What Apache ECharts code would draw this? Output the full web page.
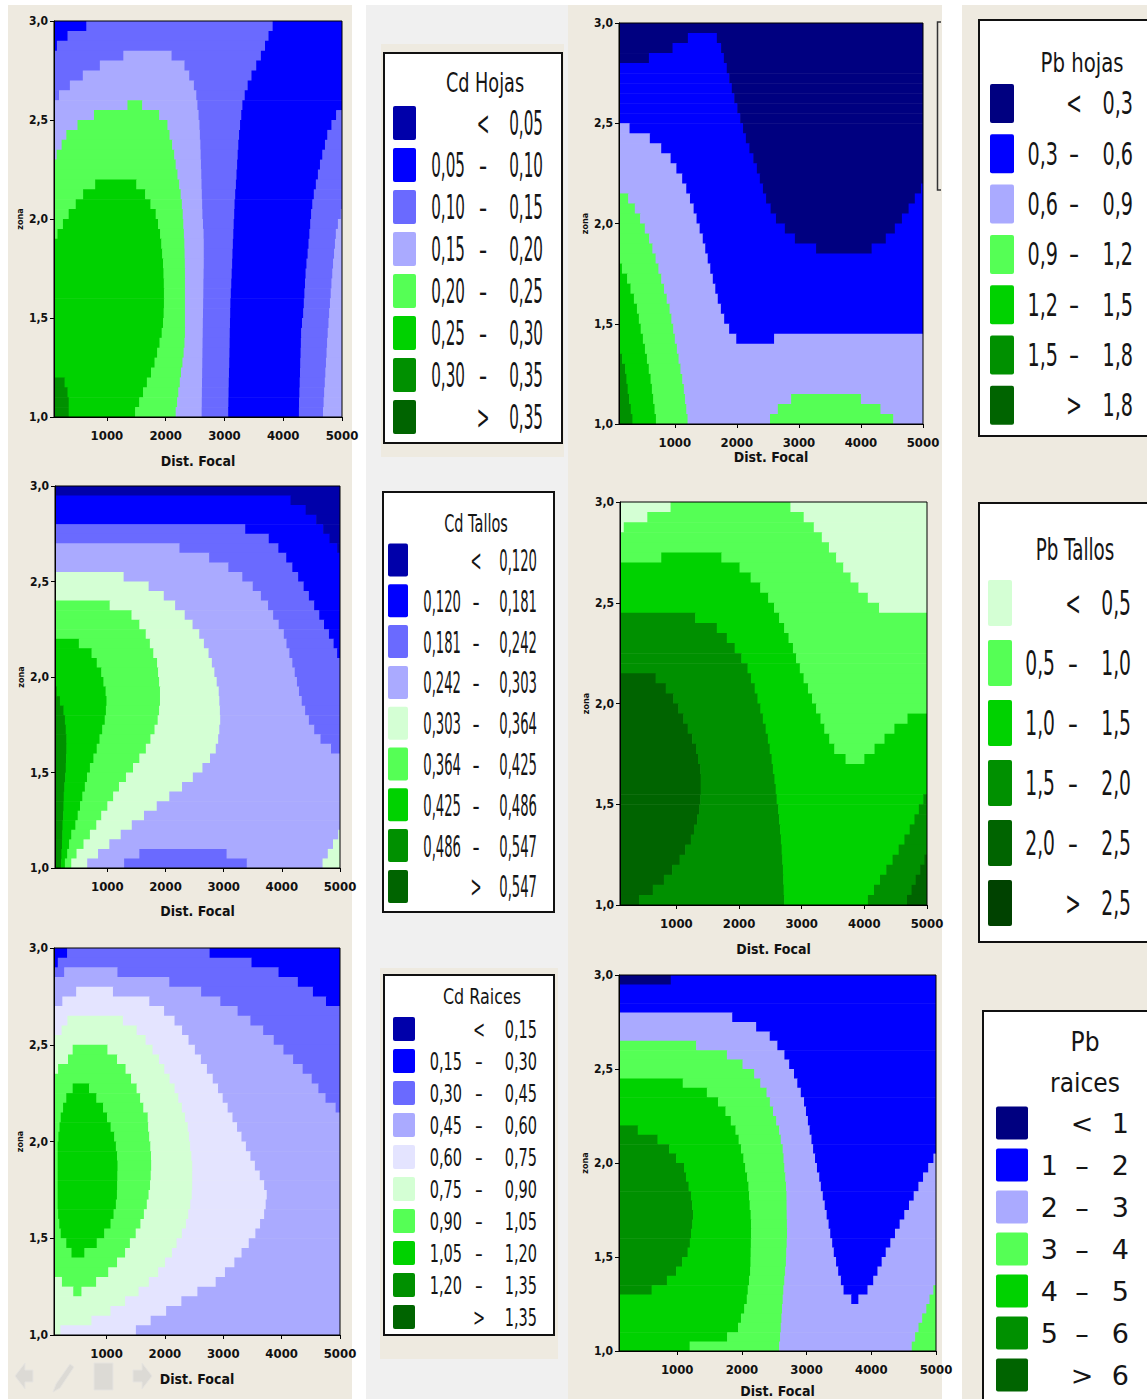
<!DOCTYPE html>
<html>
<head>
<meta charset="utf-8">
<title>Cd y Pb - contornos</title>
<script src="https://cdn.jsdelivr.net/npm/echarts@6/dist/echarts.min.js"></script>
<style>
  html, body { margin: 0; padding: 0; background: #fff; }
  #chart { width: 1147px; height: 1399px; }
</style>
</head>
<body>
<div id="chart"></div>
<script>
// ticks shared by the six contour plots
const xTicks = [1000, 2000, 3000, 4000, 5000];
const yTicks = [1.0, 1.5, 2.0, 2.5, 3.0];
const xMin = 100, xMax = 5000, yTop = 3.0, rowStep = 0.05;

// contour bands: one string per 0.05 strip of zona, 3,0 at the top.
// "level:xEnd" runs left to right, the last run goes to 5000
const cdHojasRows = [
  "1:650 2:3820 1",
  "1:330 2:3750 1",
  "1:150 2:3690 1",
  "2:1280 3:2100 2:3620 1",
  "2:880 3:2320 2:3540 1",
  "2:590 3:2400 2:3460 1",
  "2:370 3:2480 2:3395 1",
  "2:185 3:2520 2:3345 1",
  "3:1350 4:1600 3:2540 2:3305 1",
  "3:780 4:1890 3:2560 2:3285 1:4900 2",
  "3:500 4:2030 3:2575 2:3265 1:4820 2",
  "3:310 4:2065 3:2582 2:3248 1:4750 2",
  "3:230 4:2110 3:2590 2:3235 1:4710 2",
  "3:145 4:2145 3:2595 2:3225 1:4665 2",
  "4:2170 3:2600 2:3215 1:4625 2",
  "4:2200 3:2605 2:3205 1:4590 2",
  "4:800 5:1500 4:2230 3:2610 2:3195 1:4555 2",
  "4:595 5:1650 4:2255 3:2615 2:3182 1:4520 2",
  "4:470 5:1740 4:2275 3:2620 2:3172 1:4495 2",
  "4:350 5:1830 4:2290 3:2625 2:3165 1:4475 2:4980 3",
  "4:252 5:1870 4:2300 3:2635 2:3157 1:4460 2:4930 3",
  "4:160 5:1905 4:2310 3:2645 2:3150 1:4445 2:4895 3",
  "5:1925 4:2318 3:2648 2:3143 1:4430 2:4880 3",
  "5:1940 4:2322 3:2648 2:3136 1:4415 2:4865 3",
  "5:1955 4:2326 3:2648 2:3130 1:4395 2:4848 3",
  "5:1962 4:2328 3:2645 2:3123 1:4380 2:4835 3",
  "5:1968 4:2328 3:2642 2:3115 1:4370 2:4820 3",
  "5:1970 4:2328 3:2640 2:3108 1:4360 2:4808 3",
  "5:1970 4:2328 3:2637 2:3100 1:4350 2:4795 3",
  "5:1965 4:2328 3:2635 2:3097 1:4340 2:4782 3",
  "5:1955 4:2328 3:2632 2:3094 1:4320 2:4770 3",
  "5:1932 4:2328 3:2630 2:3090 1:4305 2:4757 3",
  "5:1895 4:2320 3:2627 2:3088 1:4300 2:4747 3",
  "5:1855 4:2305 3:2625 2:3085 1:4295 2:4737 3",
  "5:1810 4:2285 3:2622 2:3081 1:4290 2:4727 3",
  "5:1750 4:2260 3:2620 2:3077 1:4285 2:4717 3",
  "6:280 5:1680 4:2240 3:2618 2:3073 1:4280 2:4707 3",
  "6:330 5:1615 4:2215 3:2616 2:3070 1:4275 2:4697 3",
  "6:350 5:1550 4:2195 3:2614 2:3067 1:4270 2:4687 3",
  "6:350 5:1480 4:2170 3:2612 2:3063 1:4267 2:4677 3"
];
const cdTallosRows = [
  "0",
  "1:4150 0",
  "1:4410 0",
  "1:4590 0",
  "2:3370 1:4710 0",
  "2:3775 1:4820 0",
  "3:2240 2:3940 1:4950 0",
  "3:2750 2:4075 1",
  "3:3080 2:4180 1",
  "4:1280 3:3320 2:4280 1",
  "4:1710 3:3500 2:4375 1",
  "4:1970 3:3640 2:4465 1",
  "5:1040 4:2165 3:3763 2:4555 1",
  "5:1415 4:2330 3:3850 2:4643 1",
  "5:1550 4:2465 3:3946 2:4725 1",
  "5:1660 4:2580 3:4034 2:4810 1",
  "6:510 5:1731 4:2660 3:4080 2:4890 1",
  "6:728 5:1790 4:2740 3:4130 2:4950 1",
  "6:818 5:1855 4:2797 3:4180 2",
  "6:895 5:1872 4:2840 3:4222 2",
  "6:932 5:1890 4:2880 3:4260 2",
  "7:130 6:970 5:1905 4:2915 3:4295 2",
  "7:185 6:985 5:1905 4:2925 3:4342 2",
  "7:245 6:975 5:1890 4:2935 3:4400 2",
  "7:270 6:955 5:1865 4:2940 3:4465 2",
  "7:285 6:912 5:1811 4:2925 3:4556 2",
  "7:295 6:865 5:1740 4:2905 3:4665 2",
  "7:295 6:817 5:1662 4:2864 3:4845 2",
  "7:290 6:760 5:1550 4:2765 3",
  "7:285 6:700 5:1441 4:2635 3",
  "7:275 6:650 5:1320 4:2470 3",
  "7:260 6:613 5:1200 4:2284 3",
  "7:250 6:570 5:1100 4:2065 3",
  "7:245 6:530 5:1000 4:1849 3",
  "7:240 6:490 5:895 4:1630 3",
  "7:229 6:450 5:810 4:1420 3",
  "7:225 6:380 5:700 4:1230 3:4970 4",
  "7:220 6:343 5:590 4:1034 3:4880 4",
  "7:210 6:310 5:470 4:840 3:1550 2:3050 3:4790 4",
  "7:205 6:270 5:380 4:654 3:1288 2:3397 3:4700 4"
];
const cdRaicesRows = [
  "1:325 2:2766 1",
  "1:165 2:3484 1",
  "2:275 3:1187 2:3947 1",
  "3:2075 2:4278 1",
  "3:480 4:1110 3:2620 2:4536 1",
  "3:243 4:1733 3:2949 2:4760 1",
  "4:1986 3:3246 2",
  "4:330 5:1280 4:2165 3:3465 2",
  "4:230 5:1516 4:2294 3:3683 2",
  "5:1669 4:2405 3:3865 2",
  "5:420 6:1015 5:1788 4:2514 3:4031 2",
  "5:340 6:1180 5:1898 4:2617 3:4196 2",
  "5:170 6:1326 5:1990 4:2720 3:4360 2",
  "6:1420 5:2080 4:2820 3:4515 2",
  "6:420 7:700 6:1515 5:2166 4:2910 3:4630 2",
  "6:310 7:825 6:1575 5:2230 4:2990 3:4752 2",
  "6:255 7:940 6:1630 5:2290 4:3075 3:4925 2",
  "6:215 7:1008 6:1705 5:2345 4:3158 3",
  "6:195 7:1070 6:1713 5:2391 4:3236 3",
  "6:175 7:1131 6:1731 5:2412 4:3312 3",
  "6:163 7:1160 6:1750 5:2432 4:3388 3",
  "6:163 7:1180 6:1762 5:2453 4:3465 3",
  "6:163 7:1188 6:1765 5:2468 4:3542 3",
  "6:163 7:1185 6:1757 5:2468 4:3625 3",
  "6:163 7:1182 6:1745 5:2468 4:3700 3",
  "6:163 7:1178 6:1720 5:2460 4:3745 3",
  "6:163 7:1160 6:1690 5:2435 4:3727 3",
  "6:170 7:1120 6:1640 5:2400 4:3700 3",
  "6:190 7:1068 6:1580 5:2360 4:3630 3",
  "6:215 7:960 6:1500 5:2290 4:3550 3",
  "6:310 7:832 6:1400 5:2200 4:3437 3",
  "6:400 7:620 6:1318 5:2120 4:3313 3",
  "6:1180 5:2003 4:3190 3",
  "6:1029 5:1885 4:3029 3",
  "5:236 6:822 5:1725 4:2870 3",
  "5:430 6:570 5:1549 4:2557 3",
  "5:1318 4:2282 3",
  "5:1068 4:2021 3",
  "5:741 4:1756 3",
  "5:210 4:1503 3"
];
const pbHojasRows = [
  "0",
  "0:1210 1:1677 0",
  "0:963 1:1745 0",
  "0:582 1:1790 0",
  "1:1837 0",
  "1:1877 0",
  "1:1918 0",
  "1:1958 0",
  "1:2007 0",
  "1:2053 0",
  "2:270 1:2099 0",
  "2:597 1:2145 0",
  "2:780 1:2202 0",
  "2:932 1:2265 0",
  "2:1025 1:2322 0",
  "2:1118 1:2370 0",
  "2:1184 1:2420 0:4968 1",
  "3:248 2:1244 1:2470 0:4868 1",
  "3:355 2:1303 1:2544 0:4768 1",
  "3:440 2:1350 1:2630 0:4660 1",
  "3:516 2:1400 1:2773 0:4546 1",
  "3:585 2:1450 1:2935 0:4400 1",
  "3:638 2:1490 1:3276 0:4172 1",
  "3:690 2:1530 1",
  "4:147 3:735 2:1571 1",
  "4:231 3:781 2:1612 1",
  "4:285 3:825 2:1652 1",
  "4:340 3:869 2:1692 1",
  "4:389 3:915 2:1742 1",
  "4:420 3:944 2:1795 1",
  "4:450 3:974 2:1875 1",
  "4:485 3:1000 2:1990 1:2600 2",
  "4:518 3:1033 2",
  "5:150 4:550 3:1060 2",
  "5:199 4:580 3:1090 2",
  "5:219 4:609 3:1120 2",
  "5:240 4:630 3:1145 2",
  "5:263 4:651 3:1165 2:2874 3:3999 2",
  "5:290 4:673 3:1185 2:2660 3:4314 2",
  "5:316 4:695 3:1205 2:2534 3:4520 2"
];
const pbTallosRows = [
  "0:907 1:2820 0",
  "0:536 1:3032 0",
  "0:160 1:3193 0",
  "1:3321 0",
  "1:3435 0",
  "1:758 2:1718 1:3549 0",
  "2:2008 1:3663 0",
  "2:2185 1:3779 0",
  "2:2338 1:3905 0",
  "2:2465 1:4055 0",
  "2:2558 1:4235 0",
  "3:1300 2:2640 1",
  "3:1645 2:2720 1",
  "3:1805 2:2790 1",
  "3:1930 2:2860 1",
  "3:2036 2:2910 1",
  "3:2135 2:2970 1",
  "4:668 3:2190 2:3030 1",
  "4:830 3:2250 2:3100 1",
  "4:950 3:2294 2:3165 1",
  "4:1030 3:2340 2:3230 1",
  "4:1110 3:2380 2:3300 1:4689 2",
  "4:1180 3:2425 2:3361 1:4480 2",
  "4:1251 3:2460 2:3440 1:4322 2",
  "4:1313 3:2490 2:3520 1:4163 2",
  "4:1345 3:2520 2:3700 1:4000 2",
  "4:1380 3:2540 2",
  "4:1387 3:2565 2",
  "4:1387 3:2585 2",
  "4:1380 3:2600 2:4940 3",
  "4:1365 3:2625 2:4870 3",
  "4:1330 3:2640 2:4800 3",
  "4:1280 3:2655 2:4724 3",
  "4:1230 3:2668 2:4640 3",
  "4:1141 3:2680 2:4548 3",
  "4:1050 3:2690 2:4451 3:4958 4",
  "4:931 3:2700 2:4350 3:4890 4",
  "4:800 3:2705 2:4250 3:4820 4",
  "4:623 3:2712 2:4154 3:4754 4",
  "4:403 3:2720 2:4057 3:4681 4"
];
const pbRaicesRows = [
  "0:900 1",
  "1",
  "1",
  "1",
  "2:1850 1",
  "2:2220 1",
  "2:2430 1",
  "3:1292 2:2548 1",
  "3:1768 2:2657 1",
  "3:2009 2:2730 1",
  "3:2190 2:2805 1",
  "4:1085 3:2284 2:2856 1",
  "4:1458 3:2380 2:2910 1",
  "4:1630 3:2432 2:2960 1",
  "4:1745 3:2480 2:2990 1",
  "4:1828 3:2530 2:3020 1",
  "5:390 4:1900 3:2575 2:3047 1",
  "5:694 4:1949 3:2600 2:3075 1",
  "5:875 4:1985 3:2630 2:3100 1",
  "5:982 4:2022 3:2643 2:3130 1:4960 2",
  "5:1105 4:2050 3:2655 2:3160 1:4880 2",
  "5:1135 4:2080 3:2670 2:3195 1:4800 2",
  "5:1175 4:2100 3:2682 2:3220 1:4728 2",
  "5:1212 4:2110 3:2688 2:3250 1:4655 2",
  "5:1230 4:2120 3:2690 2:3280 1:4583 2",
  "5:1245 4:2135 3:2692 2:3310 1:4510 2",
  "5:1232 4:2140 3:2695 2:3340 1:4438 2",
  "5:1213 4:2140 3:2697 2:3365 1:4366 2",
  "5:1195 4:2138 3:2692 2:3395 1:4294 2",
  "5:1160 4:2135 3:2685 2:3420 1:4223 2",
  "5:1075 4:2132 3:2680 2:3455 1:4160 2",
  "5:983 4:2127 3:2668 2:3488 1:4095 2",
  "5:840 4:2110 3:2655 2:3530 1:4030 2",
  "5:604 4:2090 3:2640 2:3571 1:3941 2:4959 3",
  "4:2075 3:2630 2:3690 1:3800 2:4900 3",
  "4:2035 3:2620 2:4850 3",
  "4:1985 3:2610 2:4786 3",
  "4:1940 3:2600 2:4730 3",
  "4:1771 3:2590 2:4677 3",
  "4:1192 3:2575 2:4625 3"
];

// legend class limits
const cdHojasBreaks = ['0,05', '0,10', '0,15', '0,20', '0,25', '0,30', '0,35'];
const cdTallosBreaks = ['0,120', '0,181', '0,242', '0,303', '0,364', '0,425', '0,486', '0,547'];
const cdRaicesBreaks = ['0,15', '0,30', '0,45', '0,60', '0,75', '0,90', '1,05', '1,20', '1,35'];
const pbHojasBreaks = ['0,3', '0,6', '0,9', '1,2', '1,5', '1,8'];
const pbTallosBreaks = ['0,5', '1,0', '1,5', '2,0', '2,5'];
const pbRaicesBreaks = ['1', '2', '3', '4', '5', '6'];

// minitab contour palette
const DB = '#0000aa', B = '#0000ff', P = '#6a6aff', LV = '#aaaaff', PL = '#e4e4ff',
      PG = '#d4ffd4', LG = '#55ff55', G = '#00d200', DG = '#009000', DG2 = '#006400',
      NV = '#000080', DK = '#004200';
const cdHojasColors = [DB, B, P, LV, LG, G, DG, DG2];
const cdTallosColors = [DB, B, P, LV, PG, LG, G, DG, DG2];
const cdRaicesColors = [DB, B, P, LV, PL, PG, LG, G, DG, DG2];
const pbHojasColors = [NV, B, LV, LG, G, DG, DG2];
const pbTallosColors = [PG, LG, G, DG, DG2, DK];
const pbRaicesColors = [NV, B, LV, LG, G, DG, DG2];

const BEIGE = '#eeeae0';
const tickFont = "'Liberation Sans Narrow','DejaVu Sans Condensed','DejaVu Sans',sans-serif";

const panels = [
  { box: [54, 21, 288, 396], rows: cdHojasRows, colors: cdHojasColors, nameGap: 37 },
  { box: [55, 486, 285, 382], rows: cdTallosRows, colors: cdTallosColors, nameGap: 36 },
  { box: [54, 948, 286, 387], rows: cdRaicesRows, colors: cdRaicesColors, nameGap: 37 },
  { box: [619, 23, 304, 401], rows: pbHojasRows, colors: pbHojasColors, nameGap: 26 },
  { box: [620, 502, 307, 403], rows: pbTallosRows, colors: pbTallosColors, nameGap: 37 },
  { box: [619, 975, 317, 376], rows: pbRaicesRows, colors: pbRaicesColors, nameGap: 33 }
];

const legends = [
  { box: [384, 53, 178, 390], title: ['Cd Hojas'], tx: 485, ty: 83, tSize: 26, tScale: 0.68,
    breaks: cdHojasBreaks, colors: cdHojasColors, swX: 393, swW: 23, swH: 34, rowY: 123, step: 42,
    cols: [465, 483, 543], size: 33, scale: 0.46 },
  { box: [383, 492, 171, 420], title: ['Cd Tallos'], tx: 476, ty: 523, tSize: 25, tScale: 0.58,
    breaks: cdTallosBreaks, colors: cdTallosColors, swX: 388, swW: 20, swH: 33, rowY: 560, step: 40.8,
    cols: [461, 476, 537], size: 30, scale: 0.44 },
  { box: [384, 975, 170, 360], title: ['Cd Raices'], tx: 482, ty: 997, tSize: 21, tScale: 0.76,
    breaks: cdRaicesBreaks, colors: cdRaicesColors, swX: 393, swW: 22, swH: 24, rowY: 1029, step: 32,
    cols: [462, 479, 537], size: 25, scale: 0.58 },
  { box: [979, 20, 200, 416], title: ['Pb hojas'], tx: 1082, ty: 63, tSize: 27, tScale: 0.73,
    breaks: pbHojasBreaks, colors: pbHojasColors, swX: 990, swW: 24, swH: 39, rowY: 103.5, step: 50.3,
    cols: [1058, 1074, 1133], size: 32, scale: 0.6 },
  { box: [979, 503, 200, 439], title: ['Pb Tallos'], tx: 1075, ty: 550, tSize: 30, tScale: 0.61,
    breaks: pbTallosBreaks, colors: pbTallosColors, swX: 988, swW: 24, swH: 46, rowY: 603, step: 60,
    cols: [1055, 1073, 1131], size: 34, scale: 0.55 },
  { box: [983, 1011, 200, 400], title: ['Pb', 'raices'], tx: 1085, ty: 1042, tStep: 41, tSize: 26, tScale: 0.9,
    breaks: pbRaicesBreaks, colors: pbRaicesColors, swX: 996, swW: 32, swH: 33, rowY: 1123, step: 42,
    cols: [1058, 1082, 1129], size: 27, scale: 1 }
];

function buildCells(rows) {
  const cells = [];
  rows.forEach((row, i) => {
    const y1 = yTop - i * rowStep, y0 = y1 - rowStep;
    let x0 = xMin;
    row.trim().split(/\s+/).forEach(tok => {
      const parts = tok.split(':');
      const x1 = parts.length > 1 ? +parts[1] : xMax;
      cells.push([x0, x1, y0, y1, +parts[0]]);
      x0 = x1;
    });
  });
  return cells;
}

function cellRenderer(colors) {
  return function (params, api) {
    const a = api.coord([api.value(0), api.value(3)]);
    const b = api.coord([api.value(1), api.value(2)]);
    return {
      type: 'rect',
      shape: { x: a[0], y: a[1], width: b[0] - a[0] + 0.6, height: b[1] - a[1] + 0.6 },
      style: { fill: colors[api.value(4)] }
    };
  };
}

function txt(s, x, y, size, sx, align) {
  return {
    type: 'text', x: x, y: y, scaleX: sx, z: 30,
    style: {
      text: s, x: 0, y: 0, fill: '#151515', font: size + 'px "DejaVu Sans"',
      align: align, verticalAlign: 'middle', textAlign: align, textVerticalAlign: 'middle'
    }
  };
}

function legendGraphics(lg) {
  const els = [{
    type: 'rect', z: 20,
    shape: { x: lg.box[0], y: lg.box[1], width: lg.box[2], height: lg.box[3] },
    style: { fill: '#fff', stroke: '#111', lineWidth: 2 }
  }];
  lg.title.forEach((t, i) => els.push(txt(t, lg.tx, lg.ty + i * (lg.tStep || 0), lg.tSize, lg.tScale, 'center')));
  const n = lg.breaks.length + 1;
  for (let i = 0; i < n; i++) {
    const cy = lg.rowY + i * lg.step;
    els.push({
      type: 'rect', z: 25,
      shape: { x: lg.swX, y: cy - lg.swH / 2, width: lg.swW, height: lg.swH, r: 2 },
      style: { fill: lg.colors[i] }
    });
    let left = '', mid = '\u2013', right;
    if (i === 0) { mid = '<'; right = lg.breaks[0]; }
    else if (i === n - 1) { mid = '>'; right = lg.breaks[n - 2]; }
    else { left = lg.breaks[i - 1]; right = lg.breaks[i]; }
    if (left) els.push(txt(left, lg.cols[0], cy, lg.size, lg.scale, 'right'));
    els.push(txt(mid, lg.cols[1], cy, lg.size, lg.scale, 'center'));
    els.push(txt(right, lg.cols[2], cy, lg.size, lg.scale, 'right'));
  }
  return els;
}

const bgRect = (x, y, w, h, fill) => ({ type: 'rect', z: -10, silent: true, shape: { x: x, y: y, width: w, height: h }, style: { fill: fill } });
const icon = pts => ({ type: 'polygon', z: -5, silent: true, shape: { points: pts }, style: { fill: '#dcdad5', stroke: '#e6e4e0', lineWidth: 1 } });

const graphics = [
  bgRect(8, 5, 344, 1394, BEIGE),
  bgRect(366, 5, 202, 1394, '#f0f0f0'),
  bgRect(381, 44, 183, 413, BEIGE),
  bgRect(380, 968, 178, 391, BEIGE),
  bgRect(568, 5, 374, 1394, BEIGE),
  bgRect(962, 5, 185, 1394, BEIGE),
  { type: 'polyline', z: 5, shape: { points: [[941, 22], [937.5, 22], [937.5, 190], [941, 190]] },
    style: { stroke: '#333', lineWidth: 1.5, fill: null } },
  // faded viewer buttons under the first column
  icon([[15, 1376], [25, 1363], [25, 1370], [33, 1370], [33, 1382], [25, 1382], [25, 1389]]),
  icon([[53, 1392], [56, 1384], [70, 1364], [74, 1367], [60, 1388]]),
  icon([[94, 1363], [113, 1363], [113, 1390], [94, 1390]]),
  icon([[152, 1376], [142, 1363], [142, 1370], [133, 1370], [133, 1382], [142, 1382], [142, 1389]])
];
legends.forEach(lg => legendGraphics(lg).forEach(e => graphics.push(e)));

const grid = [], xAxis = [], yAxis = [], series = [];
panels.forEach((p, k) => {
  grid.push({
    left: p.box[0], top: p.box[1], width: p.box[2], height: p.box[3],
    show: true, borderColor: '#000', borderWidth: 1, backgroundColor: 'transparent', z: 10
  });
  xAxis.push({
    gridIndex: k, type: 'value', min: xMin, max: xMax, z: 11,
    name: 'Dist. Focal', nameLocation: 'middle', nameGap: p.nameGap,
    nameTextStyle: { fontFamily: tickFont, fontWeight: 'bold', fontSize: 14, color: '#111' },
    axisLine: { lineStyle: { color: '#000', width: 1 } },
    axisTick: { customValues: xTicks, length: 4, lineStyle: { color: '#000' } },
    axisLabel: {
      customValues: xTicks, margin: 12, fontFamily: tickFont, fontWeight: 'bold', fontSize: 13, color: '#111',
      formatter: v => String(v)
    },
    splitLine: { show: false }
  });
  yAxis.push({
    gridIndex: k, type: 'value', min: 1, max: 3, z: 11,
    name: 'zona', nameLocation: 'middle', nameGap: 22,
    nameTextStyle: { fontFamily: tickFont, fontWeight: 'bold', fontSize: 9, color: '#111' },
    axisLine: { lineStyle: { color: '#000', width: 1 } },
    axisTick: { customValues: yTicks, length: 4, lineStyle: { color: '#000' } },
    axisLabel: {
      customValues: yTicks, margin: 6, fontFamily: tickFont, fontWeight: 'bold', fontSize: 12, color: '#111',
      formatter: v => v.toFixed(1).replace('.', ',')
    },
    splitLine: { show: false }
  });
  series.push({
    type: 'custom', xAxisIndex: k, yAxisIndex: k, silent: true, clip: true,
    encode: { x: [0, 1], y: [2, 3] },
    data: buildCells(p.rows),
    renderItem: cellRenderer(p.colors)
  });
});

const chart = echarts.init(document.getElementById('chart'), null, { renderer: 'svg' });
chart.setOption({
  animation: false,
  backgroundColor: '#ffffff',
  grid: grid,
  xAxis: xAxis,
  yAxis: yAxis,
  series: series,
  graphic: { elements: graphics }
});
</script>
</body>
</html>
